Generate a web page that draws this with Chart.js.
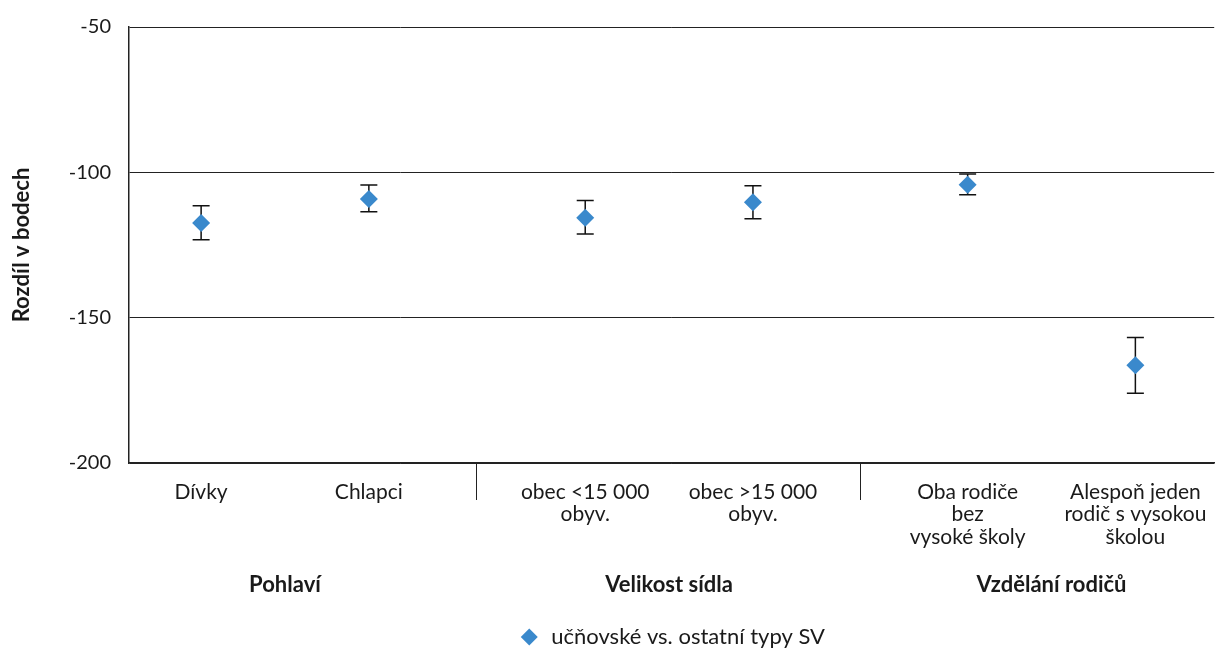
<!DOCTYPE html>
<html>
<head>
<meta charset="utf-8">
<script src="https://cdn.jsdelivr.net/npm/chart.js@4/dist/chart.umd.min.js"></script>
<style>
  html, body { margin: 0; padding: 0; background: #fff; }
  #wrap { width: 1225px; height: 648px; position: relative; }
</style>
</head>
<body>
<div id="wrap"><canvas id="c" width="1225" height="648"></canvas></div>
<script>
// ---- data ----
const categories = [
  ["Dívky"],
  ["Chlapci"],
  ["obec <15 000", "obyv."],
  ["obec >15 000", "obyv."],
  ["Oba rodiče", "bez", "vysoké školy"],
  ["Alespoň jeden", "rodič s vysokou", "školou"]
];
const categoryPositions = [0.43, 1.43, 2.72, 3.72, 5.0, 6.0];
const groups = ["Pohlaví", "Velikost sídla", "Vzdělání rodičů"];
const groupMembers = [[0, 1], [2, 3], [4, 5]];
const groupSeparators = [2.07, 4.36];
const xMax = 6.47;
const values = [-117.4, -109.2, -115.6, -110.3, -104.3, -166.4];
const lower  = [-123.2, -113.6, -121.2, -116.0, -107.7, -176.0];
const upper  = [-111.5, -104.4, -109.7, -104.6, -100.6, -156.8];
const yTicks = [-200, -150, -100, -50];
const seriesName = "učňovské vs. ostatní typy SV";
const yTitle = "Rozdíl v bodech";

const FONT = "Lato, 'Open Sans', 'DejaVu Sans', sans-serif";
const TEXT = "#1a1a1a";

const errorBars = {
  id: 'errorBars',
  beforeDatasetsDraw(chart) {
    const ctx = chart.ctx, xs = chart.scales.x, ys = chart.scales.y;
    ctx.save();
    ctx.strokeStyle = '#111';
    ctx.lineWidth = 1.5;
    const cap = 8.5;
    for (let i = 0; i < values.length; i++) {
      const px = xs.getPixelForValue(categoryPositions[i]);
      const y1 = ys.getPixelForValue(upper[i]);
      const y2 = ys.getPixelForValue(lower[i]);
      ctx.beginPath();
      ctx.moveTo(px, y1); ctx.lineTo(px, y2);
      ctx.moveTo(px - cap, y1); ctx.lineTo(px + cap, y1);
      ctx.moveTo(px - cap, y2); ctx.lineTo(px + cap, y2);
      ctx.stroke();
    }
    ctx.restore();
  }
};

const groupAxis = {
  id: 'groupAxis',
  afterDraw(chart) {
    const ctx = chart.ctx, xs = chart.scales.x, area = chart.chartArea;
    ctx.save();
    ctx.strokeStyle = '#222';
    ctx.lineWidth = 1;
    groupSeparators.forEach(v => {
      const px = Math.round(xs.getPixelForValue(v)) + 0.5;
      ctx.beginPath();
      ctx.moveTo(px, area.bottom);
      ctx.lineTo(px, area.bottom + 37);
      ctx.stroke();
    });
    ctx.fillStyle = TEXT;
    ctx.font = "bold 22px " + FONT;
    ctx.textAlign = 'center';
    ctx.textBaseline = 'middle';
    groups.forEach((g, i) => {
      const [a, b] = groupMembers[i];
      const px = (xs.getPixelForValue(categoryPositions[a]) + xs.getPixelForValue(categoryPositions[b])) / 2;
      ctx.fillText(g, px, area.bottom + 122);
    });
    ctx.restore();
  }
};

new Chart(document.getElementById('c'), {
  type: 'scatter',
  data: {
    datasets: [{
      label: seriesName,
      data: values.map((v, i) => ({ x: categoryPositions[i], y: v })),
      pointStyle: 'rectRot',
      pointRadius: 9,
      pointHoverRadius: 9,
      backgroundColor: '#3A89CC',
      borderColor: '#3A89CC',
      borderWidth: 0,
      showLine: false
    }]
  },
  options: {
    responsive: false,
    animation: false,
    devicePixelRatio: 1,
    layout: { padding: { left: 9, top: 27, right: 3, bottom: -10 } },
    plugins: {
      legend: {
        position: 'bottom',
        fullSize: false,
        labels: {
          usePointStyle: true,
          pointStyle: 'rectRot',
          boxHeight: 12,
          padding: 0,
          color: TEXT,
          font: { family: FONT, size: 22 }
        }
      },
      tooltip: { enabled: false }
    },
    scales: {
      x: {
        type: 'linear',
        min: 0,
        max: xMax,
        grid: { display: false, drawTicks: false },
        border: { display: true, color: '#222', width: 1.5 },
        afterBuildTicks(scale) { scale.ticks = categoryPositions.map(v => ({ value: v })); },
        afterFit(scale) { scale.height = 163; },
        ticks: {
          autoSkip: false,
          maxRotation: 0,
          padding: 18,
          color: TEXT,
          font: { family: FONT, size: 21, lineHeight: 1.07 },
          callback: (v, i) => categories[i]
        }
      },
      y: {
        min: -200,
        max: -50,
        afterBuildTicks(scale) { scale.ticks = yTicks.map(v => ({ value: v })); },
        afterFit(scale) { scale.width = 120; scale.paddingTop = 0; scale.paddingBottom = 0; },
        grid: { color: '#222', lineWidth: 1, drawTicks: false },
        border: { display: true, color: '#222', width: 1.5 },
        title: {
          display: true,
          text: yTitle,
          color: TEXT,
          font: { family: FONT, size: 22, weight: 'bold' },
          padding: { top: 0, bottom: 0 }
        },
        ticks: {
          padding: 18,
          color: TEXT,
          font: { family: FONT, size: 20 }
        }
      }
    }
  },
  plugins: [errorBars, groupAxis]
});
</script>
</body>
</html>
